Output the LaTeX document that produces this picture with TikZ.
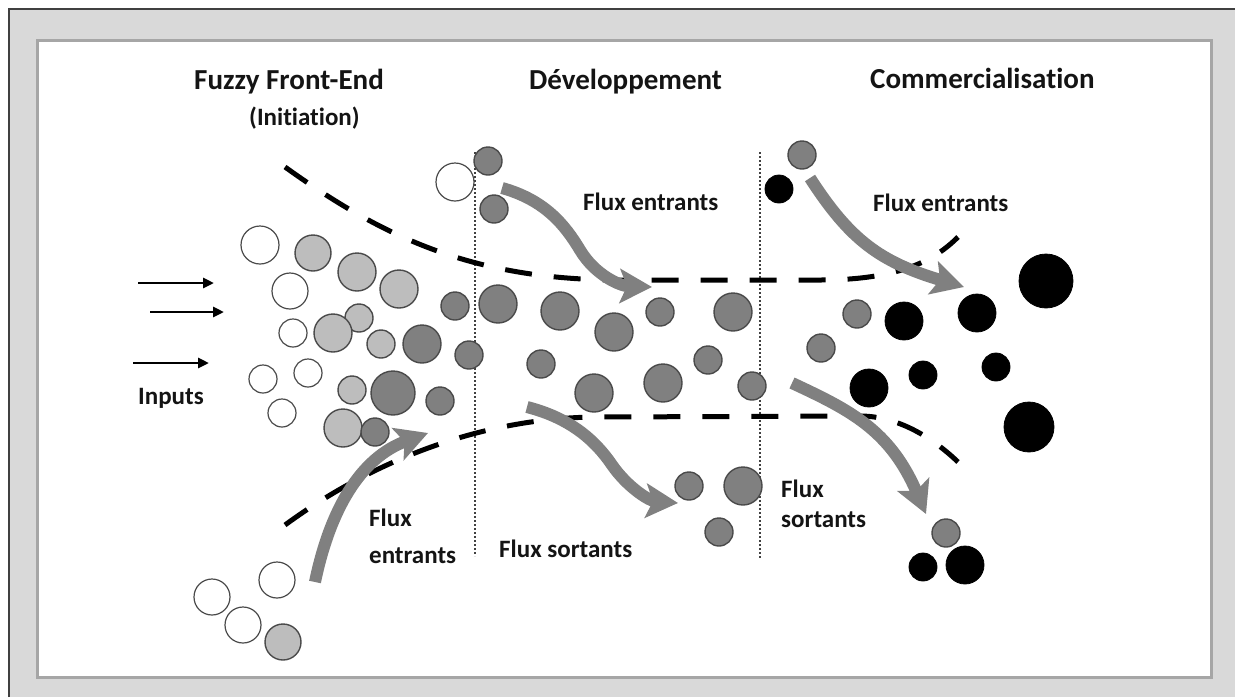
\documentclass[tikz,border=0pt]{standalone}
\usepackage{fontspec}
\setmainfont{Carlito}[Ligatures=NoCommon]
\usetikzlibrary{arrows.meta}

\definecolor{framegray}{HTML}{D9D9D9}
\definecolor{panelline}{HTML}{A6A6A6}
\definecolor{outerline}{HTML}{404040}
\definecolor{lightball}{HTML}{BDBDBD}
\definecolor{darkball}{HTML}{808080}
\definecolor{ballrim}{HTML}{4A4A4A}
\definecolor{flowgray}{HTML}{808080}
\definecolor{inkblack}{HTML}{141414}

\tikzset{
  ball/.style={circle, inner sep=0pt, outer sep=0pt, minimum size=#1*2pt},
  wc/.style={ball=#1, fill=white, draw=ballrim, line width=1.2pt},
  lg/.style={ball=#1, fill=lightball, draw=ballrim, line width=1.4pt},
  dg/.style={ball=#1, fill=darkball, draw=ballrim, line width=1.4pt},
  bk/.style={ball=#1, fill=black, draw=black, line width=0.8pt},
  heading/.style={anchor=base west, inner sep=0pt, text=inkblack,
                  font=\fontsize{29}{34}\selectfont\bfseries},
  label/.style={anchor=base west, inner sep=0pt, text=inkblack,
                font=\fontsize{25}{30}\selectfont\bfseries},
  boundary/.style={line width=5pt, dash pattern=on 27pt off 22pt},
  phase/.style={line width=1.2pt, dash pattern=on 2pt off 2pt, draw=outerline},
  flow/.style={line width=12pt, draw=flowgray,
               -{Stealth[length=32pt, width=34pt, inset=7pt, fill=flowgray]}},
  input/.style={line width=2.8pt, -{Triangle[length=11pt, width=10pt]}}
}

\begin{document}
\begin{tikzpicture}[x=1pt, y=-1pt]
  % page frame
  \fill[white] (0,0) rectangle (1235,697);
  \useasboundingbox (0,0) rectangle (1235,697);
  \fill[framegray] (9,9) rectangle (1235,697);
  \draw[outerline, line width=1.6pt] (9,697) -- (9,9) -- (1235,9);
  \draw[panelline, fill=white, line width=3pt] (37,40) rectangle (1211,677);

  % phase separators
  \draw[phase] (475,152) -- (475,556);
  \draw[phase] (760,152) -- (760,558);

  % ideas entering the funnel (white)
  \foreach \x/\y/\r [count=\i] in {260/245/19, 290/291/18, 293/333/14, 263/379/14,
      308/373/14, 282/413/14, 212/597/18, 277/580/18, 243/625/18, 455/182/19}
    \node[wc=\r] (w\i) at (\x,\y) {};

  % ideas in initiation (light gray)
  \foreach \x/\y/\r [count=\i] in {313/253/18, 357/272/19, 399/289/19, 359/318/14,
      333/333/19, 381/344/14, 352/390/14, 343/428/19, 283/642/18}
    \node[lg=\r] (l\i) at (\x,\y) {};

  % projects under development (dark gray)
  \foreach \x/\y/\r [count=\i] in {455/306/14, 422/344/19, 469/355/14, 393/393/22,
      440/401/14, 375/432/14, 488/161/14, 494/209/14, 498/304/19, 560/311/19,
      660/312/14, 733/312/19, 614/332/19, 541/364/14, 708/360/14, 594/393/19,
      663/383/19, 752/386/14, 689/486/14, 743/486/19, 719/532/14, 802/155/14,
      857/314/14, 821/348/14, 946/533/14}
    \node[dg=\r] (d\i) at (\x,\y) {};

  % products on the market (black)
  \foreach \x/\y/\r [count=\i] in {779/189/14, 1046/281/27, 904/321/19, 977/313/19,
      869/388/19, 923/375/14, 996/367/14, 1029/427/25, 923/567/14, 965/565/19}
    \node[bk=\r] (b\i) at (\x,\y) {};

  % funnel boundaries
  \draw[boundary] (285,167) .. controls (380,235) and (470,280) .. (620,280)
     -- (820,280) .. controls (900,280) and (935,260) .. (958,237);
  \draw[boundary] (285,525) .. controls (360,470) and (470,417) .. (600,417)
     -- (860,416) .. controls (900,416) and (935,440) .. (958,462);

  % inputs
  \coordinate (i1s) at (138,283); \coordinate (i1e) at (214,283);
  \coordinate (i2s) at (150,312); \coordinate (i2e) at (224,312);
  \coordinate (i3s) at (133,363); \coordinate (i3e) at (209,363);
  \draw[input] (i1s) -- (i1e);
  \draw[input] (i2s) -- (i2e);
  \draw[input] (i3s) -- (i3e);

  % in- and outflows
  \coordinate (f1s) at (315,582); \coordinate (f1e) at (428,433);
  \coordinate (f2s) at (502,188); \coordinate (f2e) at (652,287);
  \coordinate (f3s) at (527,407); \coordinate (f3e) at (678,503);
  \coordinate (f4s) at (810,178); \coordinate (f4e) at (964,287);
  \coordinate (f5s) at (792,383); \coordinate (f5e) at (926,514);
  \draw[flow] (f1s) .. controls (330,510) and (360,458) .. (f1e);
  \draw[flow] (f2s) .. controls (545,200) and (565,225) .. (580,250)
     .. controls (595,275) and (620,286) .. (f2e);
  \draw[flow] (f3s) .. controls (570,418) and (595,440) .. (612,465)
     .. controls (628,488) and (650,501) .. (f3e);
  \draw[flow] (f4s) .. controls (850,240) and (880,262) .. (f4e);
  \draw[flow] (f5s) .. controls (850,410) and (890,430) .. (f5e);

  % phase titles
  \node[heading] (t1) at (194,89) {Fuzzy Front-End};
  \node[label]   (t1b) at (249,125) {(Initiation)};
  \node[heading] (t2) at (529,89) {Développement};
  \node[heading] (t3) at (870,88) {Commercialisation};

  % flow labels
  \node[label] (inp) at (138,404) {Inputs};
  \node[label] (fe1a) at (369,526) {Flux};
  \node[label] (fe1b) at (369,563) {entrants};
  \node[label] (fe2) at (583,210) {Flux entrants};
  \node[label] (fs2) at (499,557) {Flux sortants};
  \node[label] (fe3) at (873,211) {Flux entrants};
  \node[label] (fs3a) at (781,497) {Flux};
  \node[label] (fs3b) at (781,527) {sortants};
\end{tikzpicture}
\end{document}
